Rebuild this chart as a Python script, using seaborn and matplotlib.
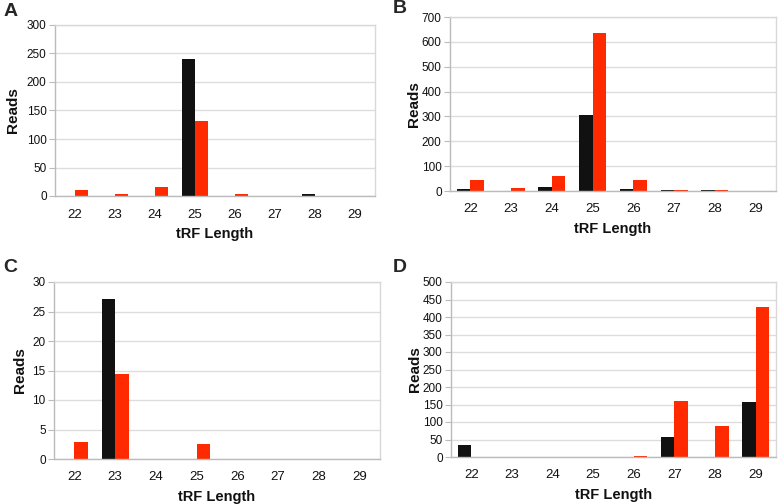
import pandas as pd
import matplotlib
matplotlib.use("Agg")
import matplotlib.pyplot as plt
import seaborn as sns

lengths = [22, 23, 24, 25, 26, 27, 28, 29]

a_black = [0, 0, 0, 241, 0, 0, 3, 0]
a_red = [11, 4, 15, 131, 3, 0, 0, 0]

b_black = [7, 2, 16, 305, 7, 3, 5, 0]
b_red = [43, 13, 62, 635, 44, 4, 4, 0]

c_black = [0, 27.2, 0, 0, 0, 0, 0, 0]
c_red = [2.9, 14.4, 0, 2.5, 0, 0, 0, 0]

d_black = [34, 0, 0, 0, 0, 58, 0, 157]
d_red = [1, 1, 0, 0, 3, 160, 89, 429]

panels = [
    ("A", a_black, a_red, 300, 50),
    ("B", b_black, b_red, 700, 100),
    ("C", c_black, c_red, 30, 5),
    ("D", d_black, d_red, 500, 50),
]

# axes boxes in pixels: left, top, right, bottom
boxes = [
    (55, 25, 375, 196),
    (450, 17, 776, 191),
    (54, 282, 380, 459),
    (451, 282, 776, 457),
]
# letter positions (x, top) and ylabel centre x, in pixels
letters_at = [(4, 3), (393, 0), (3, 259), (393, 259)]
ylab_x = [13, 414, 20, 415]

sns.set_style("white")
plt.rcParams["font.family"] = ["Liberation Sans", "DejaVu Sans"]

W, H = 778, 504
fig = plt.figure(figsize=(W / 100, H / 100), dpi=100)

for i, (letter, black, red, ymax, step) in enumerate(panels):
    l, t, r, b = boxes[i]
    ax = fig.add_axes([l / W, 1 - b / H, (r - l) / W, (b - t) / H])
    df = pd.DataFrame({
        "length": lengths * 2,
        "reads": black + red,
        "group": ["black"] * 8 + ["red"] * 8,
    })
    sns.barplot(data=df, x="length", y="reads", hue="group", ax=ax,
                palette={"black": "#111111", "red": "#ff2a00"},
                saturation=1, width=0.667, linewidth=0,
                legend=False)
    ax.set_ylim(0, ymax)
    ax.set_xlim(-0.5, 7.5)
    ax.set_yticks(range(0, ymax + 1, step))
    ax.yaxis.grid(True, color="#dddddd", linewidth=1)
    ax.set_axisbelow(True)
    for s in ax.spines.values():
        s.set_color("#d8d8d8")
        s.set_linewidth(1)
    ax.spines["left"].set_color("#bbbbbb")
    ax.spines["bottom"].set_color("#bbbbbb")
    ax.set_xticks([k - 0.5 for k in range(9)], minor=False)
    ax.set_xticklabels([])
    ax.set_xticks(range(8), minor=True)
    ax.set_xticklabels([str(v) for v in lengths], minor=True)
    ax.tick_params(axis="x", which="major", length=4, color="#bbbbbb", width=1)
    ax.tick_params(axis="x", which="minor", length=0, labelsize=9.5, pad=9,
                   labelcolor="#111111")
    ax.tick_params(axis="y", length=4, color="#bbbbbb", labelsize=8.5, pad=2,
                   left=True, labelcolor="#111111")
    hpx = b - t
    ax.set_xlabel("tRF Length", fontsize=10.5, fontweight="bold", color="#111111")
    ax.xaxis.set_label_coords(0.5, -38 / hpx)
    ax.xaxis.label.set_va("center")
    ax.set_ylabel("Reads", fontsize=11, fontweight="bold", color="#111111")
    ax.yaxis.set_label_coords((ylab_x[i] - l) / (r - l), 0.5)
    ax.yaxis.label.set_va("center")
    lx, ly = letters_at[i]
    fig.text(lx / W, 1 - ly / H, letter, fontsize=14,
             fontweight="bold", va="top", ha="left")

fig.savefig("out.png", dpi=100)
